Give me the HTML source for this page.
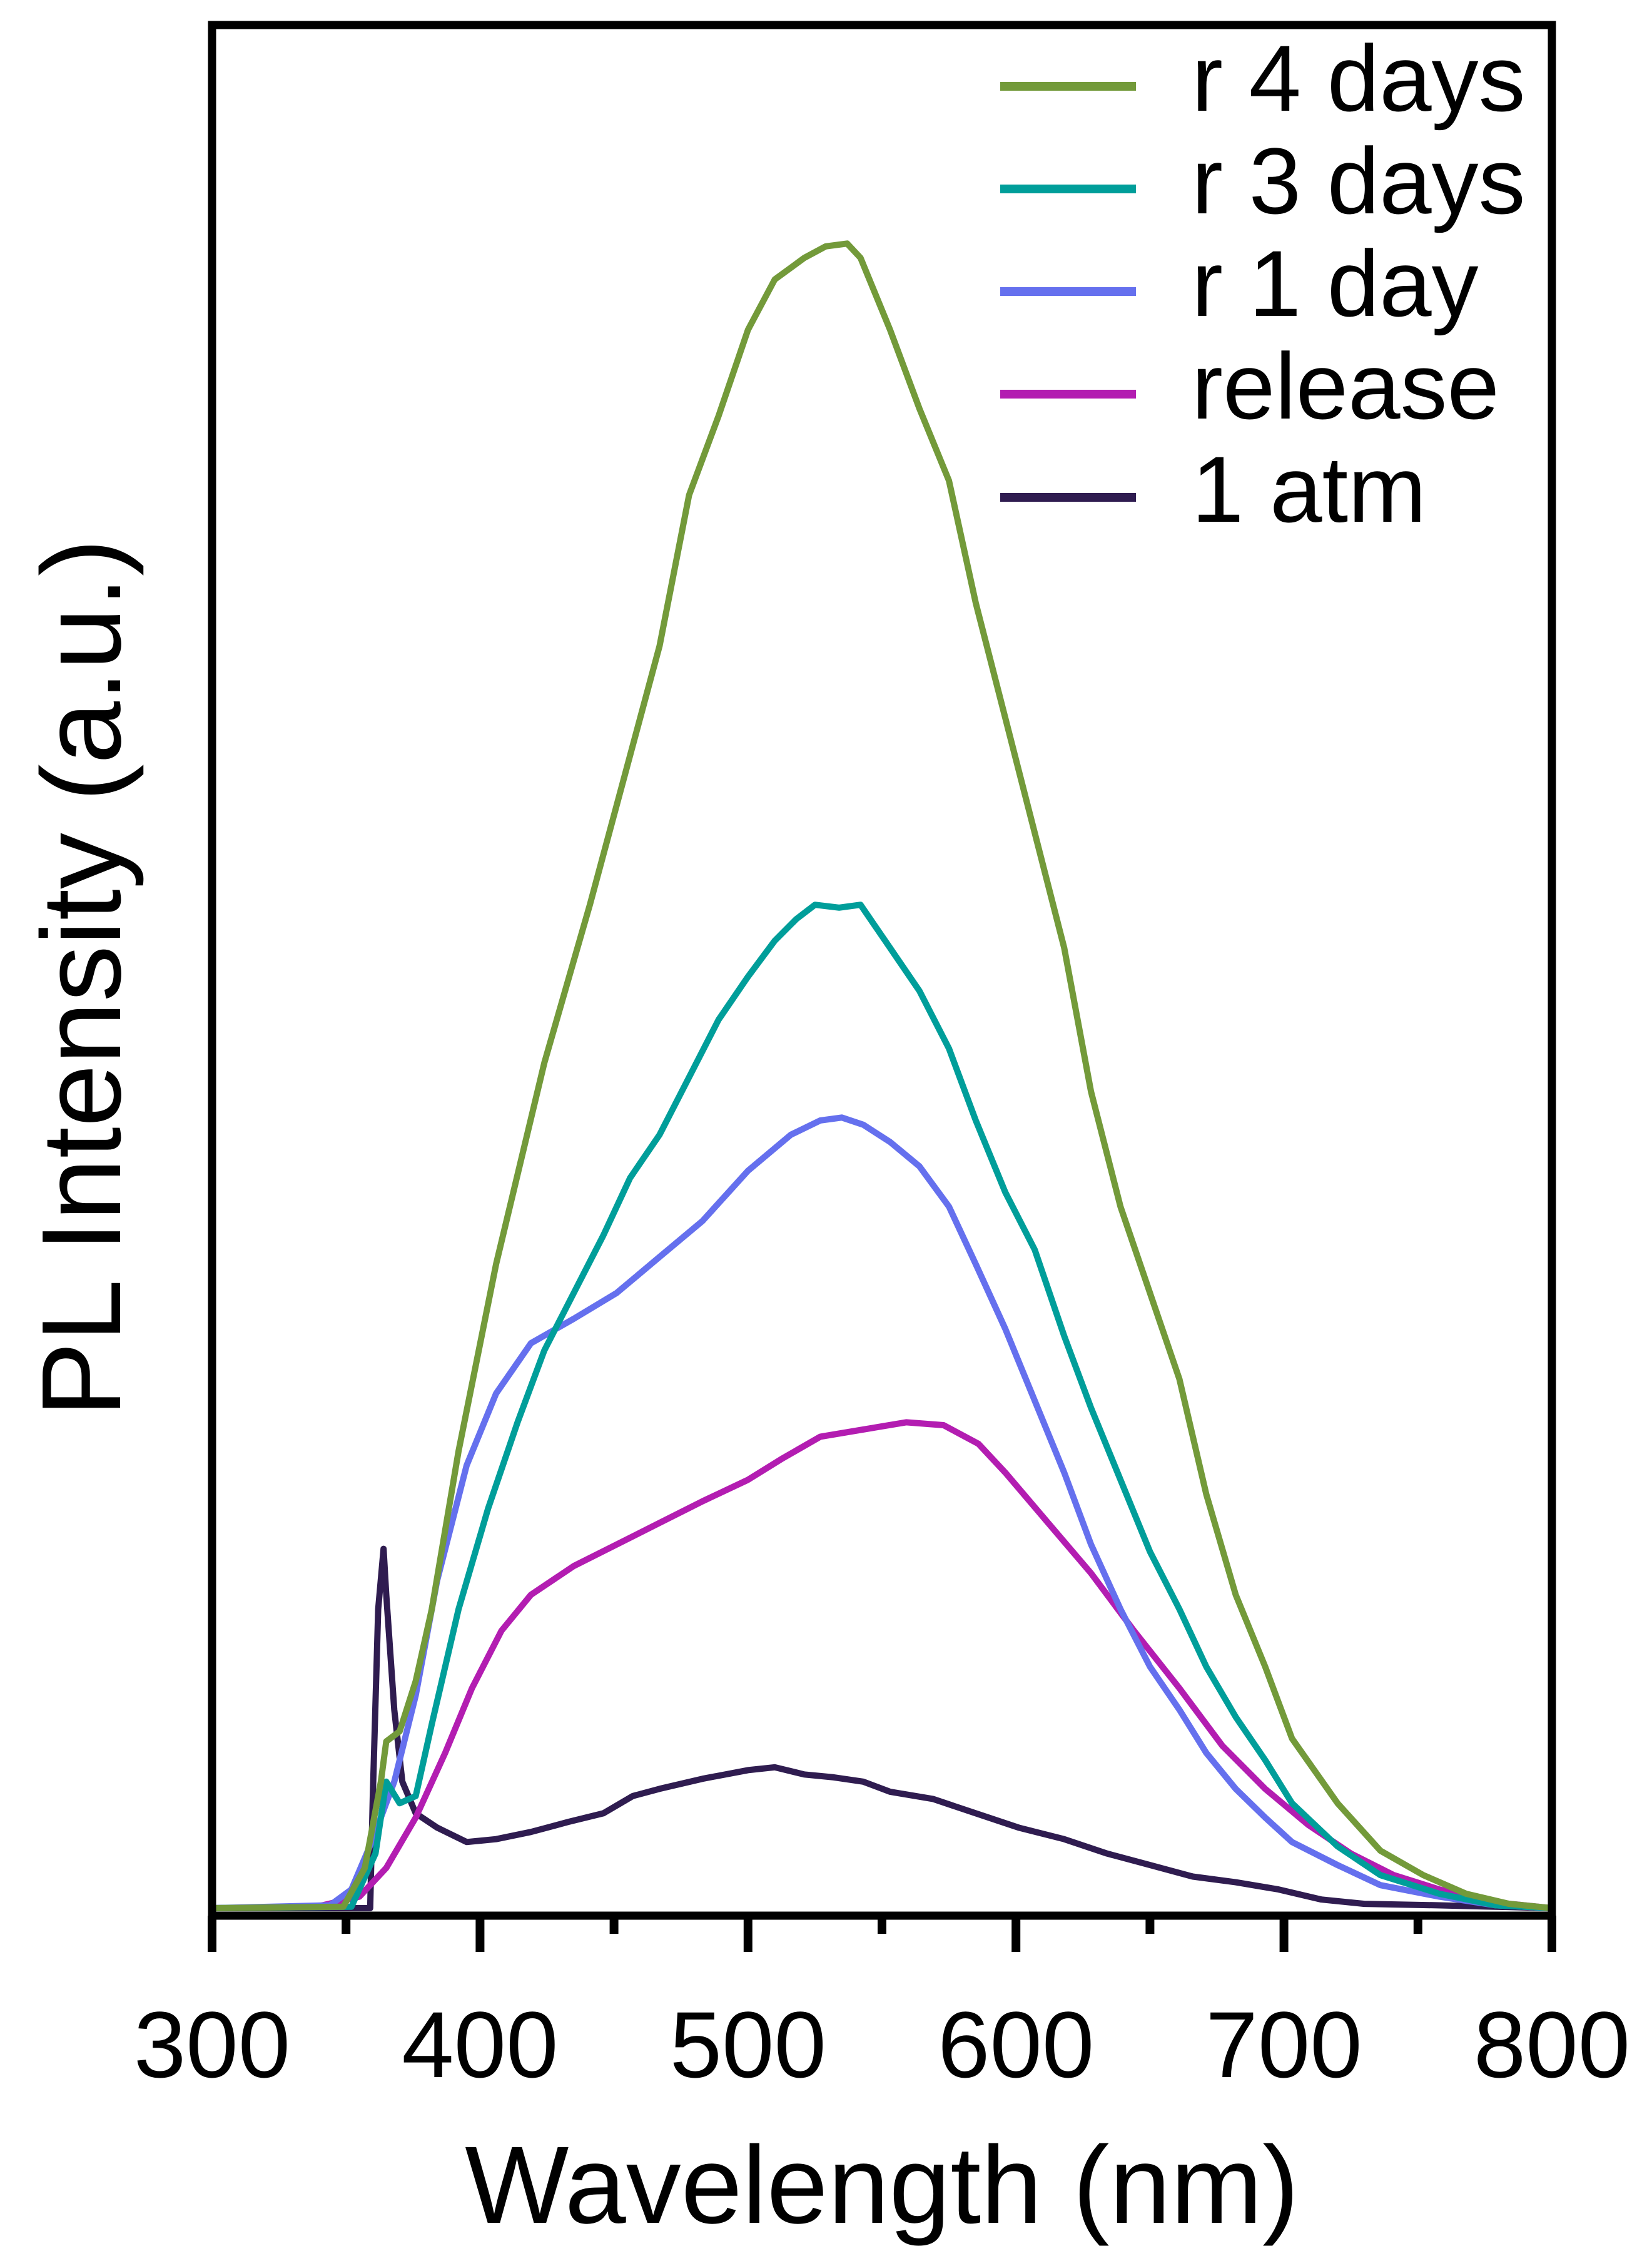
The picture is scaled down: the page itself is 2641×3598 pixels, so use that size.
<!DOCTYPE html>
<html>
<head>
<meta charset="utf-8">
<style>
  html, body { margin: 0; padding: 0; background: #fff; }
  svg { display: block; }
  text { font-family: "Liberation Sans", Arial, sans-serif; fill: #000; }
</style>
</head>
<body>
<svg id="chart" xmlns="http://www.w3.org/2000/svg" width="2641" height="3598" viewBox="0 0 2641 3598">
  <rect x="0" y="0" width="2641" height="3598" fill="#fff"/>
  <g id="series"></g>
  <g id="axes"></g>
  <g id="legend"></g>
  <text x="1410" y="3553" font-size="176" text-anchor="middle">Wavelength (nm)</text>
  <text transform="translate(192,1563) rotate(-90)" x="0" y="0" font-size="180" text-anchor="middle">PL Intensity (a.u.)</text>
</svg>
<script>
const xTicks = [300, 400, 500, 600, 700, 800];
const xMinorTicks = [350, 450, 550, 650, 750];
const seriesNames = ["r 4 days", "r 3 days", "r 1 day", "release", "1 atm"];

const wl4d = [300,349,357,363,365,370,376,382,392,406,424,441,454,467,478,489,500,510,521,529,537,542,553,564,575,585,596,607,618,628,639,650,661,671,682,693,703,720,736,752,768,784,800];
const int4d = [0,1,28,88,116,123,158,208,318,448,588,698,788,878,983,1038,1098,1133,1148,1156,1158,1148,1098,1043,993,908,828,748,668,568,488,428,368,288,218,168,118,73,40,23,10,3,0];

const wl3d = [300,352,361,365,370,376,382,392,403,414,424,435,446,456,467,478,489,500,510,518,525,534,542,553,564,575,585,596,607,618,628,639,650,661,671,682,693,703,720,736,758,779,800];
const int3d = [0,1,38,88,73,78,128,208,278,338,388,428,468,508,538,578,618,648,673,688,698,696,698,668,638,598,548,498,458,398,348,298,248,208,168,133,103,73,43,23,10,2,0];

const wl1d = [300,344,352,360,368,376,384,395,406,419,435,451,467,483,500,516,527,535,543,553,564,575,585,596,607,618,628,639,650,661,671,682,693,703,720,736,758,779,800];
const int1d = [0,2,13,48,88,148,228,308,358,393,410,428,453,478,513,538,548,550,545,533,516,488,448,403,353,303,253,208,168,138,108,83,63,46,30,16,8,2,0];

const wlRel = [300,339,355,365,376,387,397,408,419,435,451,467,483,500,513,527,543,559,573,586,596,612,628,644,661,677,693,709,725,741,758,779,800];
const intRel = [0,1,8,28,63,108,153,193,218,238,253,268,283,298,313,328,333,338,336,323,303,268,233,193,153,113,83,58,38,23,13,4,0];

const wlAtm = [300,355,359,360,362,364,365,368,371,376,384,395,406,419,433,446,457,467,483,500,510,521,532,543,553,569,585,601,618,634,650,666,682,698,714,730,757,779,800];
const intAtm = [0,0,0,78,208,250,218,138,88,66,56,46,48,53,60,66,78,83,90,96,98,93,91,88,81,76,66,56,48,38,30,22,18,13,6,3,2,1,0];

const NS = "http://www.w3.org/2000/svg";
const X0 = 339, X1 = 2481, Y0 = 3050, YTOP = 40, FRAMEB = 3062;
const xMin = 300, xMax = 800, yMax = 1310;
function xs(v) { return X0 + (v - xMin) / (xMax - xMin) * (X1 - X0); }
function ys(v) { return Y0 - v / yMax * (Y0 - YTOP); }

const seriesDefs = [
  { wl: wl4d, val: int4d, color: "#739a3a", key: "r-4-days" },
  { wl: wl3d, val: int3d, color: "#009e9a", key: "r-3-days" },
  { wl: wl1d, val: int1d, color: "#6570ee", key: "r-1-day" },
  { wl: wlRel, val: intRel, color: "#b31db1", key: "release" },
  { wl: wlAtm, val: intAtm, color: "#2f1c50", key: "1-atm" }
];

const sg = document.getElementById("series");
seriesDefs.slice().reverse().forEach(function (s) {
  const p = document.createElementNS(NS, "path");
  let d = "";
  for (let i = 0; i < s.wl.length; i++) {
    d += (i ? "L" : "M") + xs(s.wl[i]).toFixed(1) + "," + ys(s.val[i]).toFixed(1);
  }
  p.setAttribute("d", d);
  p.setAttribute("fill", "none");
  p.setAttribute("stroke", s.color);
  p.setAttribute("stroke-width", "10");
  p.setAttribute("stroke-linejoin", "round");
  
  
  sg.appendChild(p);
});

const ag = document.getElementById("axes");
const frame = document.createElementNS(NS, "rect");
frame.setAttribute("x", X0);
frame.setAttribute("y", YTOP);
frame.setAttribute("width", X1 - X0);
frame.setAttribute("height", FRAMEB - YTOP);
frame.setAttribute("fill", "none");
frame.setAttribute("stroke", "#000");
frame.setAttribute("stroke-width", "13");


ag.appendChild(frame);

xTicks.forEach(function (t) {
  const l = document.createElementNS(NS, "line");
  l.setAttribute("x1", xs(t)); l.setAttribute("x2", xs(t));
  l.setAttribute("y1", FRAMEB); l.setAttribute("y2", 3120);
  l.setAttribute("stroke", "#000"); l.setAttribute("stroke-width", "14");
  
  
  ag.appendChild(l);
  const tx = document.createElementNS(NS, "text");
  tx.setAttribute("x", xs(t));
  tx.setAttribute("y", 3320);
  tx.setAttribute("font-size", "150");
  tx.setAttribute("text-anchor", "middle");
  tx.textContent = t;
  
  
  ag.appendChild(tx);
});
xMinorTicks.forEach(function (t) {
  const l = document.createElementNS(NS, "line");
  l.setAttribute("x1", xs(t)); l.setAttribute("x2", xs(t));
  l.setAttribute("y1", FRAMEB); l.setAttribute("y2", 3091);
  l.setAttribute("stroke", "#000"); l.setAttribute("stroke-width", "14");
  
  
  ag.appendChild(l);
});

const lg = document.getElementById("legend");
const legendY = [138, 302, 466, 630, 795];
seriesDefs.forEach(function (s, i) {
  const g = document.createElementNS(NS, "g");
  
  
  const l = document.createElementNS(NS, "line");
  l.setAttribute("x1", 1599); l.setAttribute("x2", 1816);
  l.setAttribute("y1", legendY[i]); l.setAttribute("y2", legendY[i]);
  l.setAttribute("stroke", s.color); l.setAttribute("stroke-width", "14");
  
  
  g.appendChild(l);
  const t = document.createElementNS(NS, "text");
  t.setAttribute("x", 1905);
  t.setAttribute("y", legendY[i] + 39);
  t.setAttribute("font-size", "150");
  t.textContent = seriesNames[i];
  
  
  g.appendChild(t);
  lg.appendChild(g);
});
</script>
</body>
</html>
